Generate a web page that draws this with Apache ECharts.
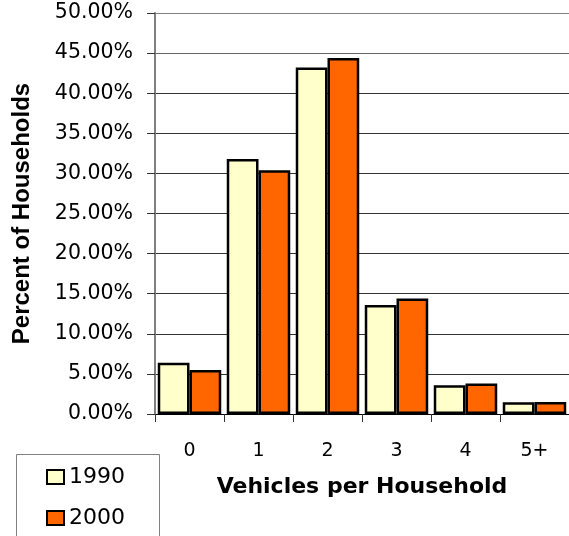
<!DOCTYPE html>
<html>
<head>
<meta charset="utf-8">
<script src="https://cdn.jsdelivr.net/npm/echarts@6/dist/echarts.min.js"></script>
<style>html,body{margin:0;padding:0;background:#fff}#c{width:569px;height:536px}</style>
</head>
<body>
<div id="c"></div>
<script>
const categories = ['0', '1', '2', '3', '4', '5+'];
const values1990 = [6.4, 31.8, 43.2, 13.6, 3.6, 1.45];
const values2000 = [5.5, 30.4, 44.4, 14.4, 3.8, 1.5];
const seriesNames = ['1990', '2000'];

const chart = echarts.init(document.getElementById('c'), null, {renderer: 'canvas'});
chart.setOption({
  animation: false,
  backgroundColor: '#ffffff',
  grid: {left: 155, top: 13, bottom: 122, right: -7},
  graphic: [{
    type: 'rect', left: 14, top: 452, z: 0,
    shape: {width: 143, height: 100},
    style: {fill: 'none', stroke: '#808080', lineWidth: 1}
  }],
  legend: {
    orient: 'vertical',
    left: 46, top: 466,
    padding: 0,
    icon: 'rect',
    itemWidth: 17, itemHeight: 14,
    itemGap: 19,
    itemTextGap: 6,
    textStyle: {fontFamily: 'DejaVu Sans', fontSize: 22, color: '#000'},
    data: seriesNames
  },
  xAxis: {
    type: 'category',
    data: categories,
    name: 'Vehicles per Household',
    nameLocation: 'middle',
    nameGap: 62,
    nameTextStyle: {fontFamily: 'DejaVu Sans', fontWeight: 'bold', fontSize: 22, color: '#000'},
    axisLine: {lineStyle: {color: '#000', width: 1}},
    axisTick: {show: true, alignWithLabel: false, length: 8, lineStyle: {color: '#333'}},
    axisLabel: {fontFamily: 'DejaVu Sans', fontSize: 19, color: '#000', margin: 28}
  },
  yAxis: {
    type: 'value',
    min: 0, max: 50, interval: 5,
    name: 'Percent of Households',
    nameLocation: 'middle',
    nameRotate: 90,
    nameGap: 121,
    nameTextStyle: {fontFamily: 'Liberation Sans', fontWeight: 'bold', fontSize: 24, color: '#000'},
    axisLine: {show: true, lineStyle: {color: '#808080', width: 2}},
    axisTick: {show: true, length: 8, lineStyle: {color: '#333'}},
    axisLabel: {fontFamily: 'DejaVu Sans', fontSize: 20.5, color: '#000', margin: 22,
      padding: [5, 0, 0, 0],
      formatter: v => v.toFixed(2) + '%'},
    splitLine: {show: true, lineStyle: {color: ['#333', '#333', '#333', '#333', '#333', '#333', '#333', '#333', '#333', '#666', '#808080'], width: 1}}
  },
  series: [
    {name: seriesNames[0], type: 'bar', data: values1990, barGap: '0%', barCategoryGap: '8%',
     itemStyle: {color: '#FFFFCC', borderColor: '#000', borderWidth: 2.5}},
    {name: seriesNames[1], type: 'bar', data: values2000, barGap: '0%', barCategoryGap: '8%',
     itemStyle: {color: '#FF6600', borderColor: '#000', borderWidth: 2.5}}
  ]
});
</script>
</body>
</html>
